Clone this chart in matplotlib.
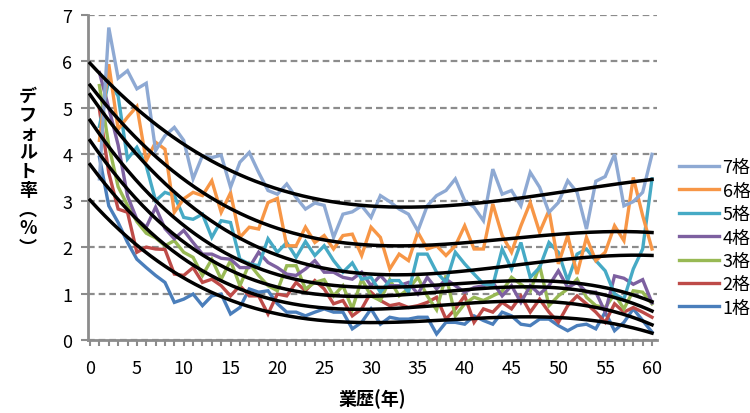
import numpy as np
import matplotlib.pyplot as plt
from matplotlib.lines import Line2D

plt.rcParams['font.family'] = ['Noto Sans CJK JP', 'DejaVu Sans']

years = np.arange(1, 61)

rate_1 = [3.94, 2.89, 2.53, 2.10, 1.74, 1.56, 1.39, 1.24, 0.81, 0.88,
          0.99, 0.74, 0.95, 0.99, 0.56, 0.70, 1.10, 1.03, 1.06, 0.78,
          0.60, 0.60, 0.52, 0.60, 0.67, 0.60, 0.60, 0.24, 0.38, 0.67,
          0.34, 0.49, 0.45, 0.45, 0.49, 0.49, 0.13, 0.38, 0.38, 0.34,
          0.52, 0.42, 0.34, 0.60, 0.52, 0.34, 0.31, 0.45, 0.45, 0.31,
          0.20, 0.31, 0.34, 0.24, 0.60, 0.20, 0.38, 0.67, 0.42, 0.17]
rate_2 = [4.97, 3.60, 2.82, 2.75, 1.89, 2.00, 1.96, 1.95, 1.42, 1.39,
          1.56, 1.24, 1.31, 1.17, 0.95, 1.17, 0.95, 0.95, 0.56, 0.99,
          0.95, 1.24, 1.06, 1.28, 1.10, 0.78, 0.85, 0.52, 0.67, 1.03,
          0.85, 0.74, 0.78, 0.70, 0.74, 0.81, 0.92, 0.45, 0.67, 0.95,
          0.38, 0.67, 0.60, 0.81, 0.67, 0.95, 0.60, 0.88, 0.60, 0.38,
          0.74, 0.95, 0.78, 0.60, 0.38, 0.78, 0.60, 0.70, 0.60, 0.49]
rate_3 = [5.48, 4.19, 3.30, 2.90, 2.55, 2.30, 2.20, 2.03, 2.14, 1.89,
          1.78, 1.39, 1.74, 1.31, 1.71, 1.17, 1.64, 1.39, 1.17, 1.06,
          1.60, 1.60, 1.10, 1.24, 1.30, 0.95, 1.17, 0.67, 1.31, 0.95,
          0.85, 1.30, 0.95, 1.10, 1.35, 0.95, 0.65, 1.39, 0.52, 0.78,
          0.92, 0.85, 0.95, 1.05, 1.35, 1.20, 1.05, 1.60, 0.74, 0.95,
          1.10, 1.31, 0.92, 0.74, 0.70, 0.99, 0.67, 1.06, 1.03, 0.78]
rate_4 = [5.76, 5.00, 4.20, 3.10, 2.60, 2.43, 2.86, 2.40, 2.18, 2.36,
          2.10, 1.85, 1.85, 1.76, 1.74, 1.56, 1.56, 1.89, 1.67, 1.56,
          1.42, 1.39, 1.53, 1.71, 1.46, 1.46, 1.35, 1.31, 1.46, 1.17,
          1.39, 1.17, 1.17, 1.24, 0.99, 1.35, 1.10, 1.31, 1.17, 1.03,
          1.13, 1.17, 1.24, 0.95, 1.17, 0.81, 1.17, 0.99, 1.17, 1.49,
          1.13, 1.24, 1.03, 1.03, 0.60, 1.38, 1.33, 1.20, 1.30, 0.80]
rate_5 = [4.60, 5.60, 5.25, 3.90, 4.15, 3.75, 3.00, 3.18, 3.11, 2.64,
          2.60, 2.71, 2.21, 2.57, 2.53, 1.74, 1.64, 1.60, 2.18, 1.89,
          2.10, 1.78, 2.12, 1.82, 2.03, 1.71, 1.46, 1.66, 1.31, 1.35,
          1.03, 1.28, 1.28, 1.03, 1.85, 1.85, 1.46, 1.24, 1.89, 1.64,
          1.42, 1.21, 1.17, 1.96, 1.53, 2.10, 1.35, 1.56, 2.10, 1.89,
          1.28, 1.85, 1.96, 1.71, 1.49, 0.99, 0.88, 1.53, 1.96, 3.47]
rate_6 = [4.30, 5.94, 4.54, 4.80, 5.03, 3.86, 4.26, 4.11, 2.75, 3.04,
          3.18, 3.11, 3.43, 2.75, 3.17, 2.21, 2.43, 2.39, 2.96, 3.05,
          2.03, 2.03, 2.43, 2.10, 2.25, 1.96, 2.25, 2.28, 1.82, 2.43,
          2.21, 1.53, 1.85, 1.71, 2.32, 1.96, 2.03, 1.82, 2.03, 2.46,
          1.96, 1.96, 2.93, 2.25, 1.89, 2.46, 2.96, 2.32, 2.79, 1.64,
          2.25, 1.42, 2.21, 1.71, 1.89, 2.46, 2.14, 3.50, 2.68, 1.96]
rate_7 = [3.47, 6.73, 5.64, 5.80, 5.41, 5.53, 4.08, 4.40, 4.58, 4.30,
          3.47, 3.97, 3.93, 3.98, 3.29, 3.83, 4.04, 3.61, 3.22, 3.14,
          3.36, 3.07, 2.82, 2.95, 2.90, 2.21, 2.71, 2.76, 2.89, 2.64,
          3.11, 2.98, 2.82, 2.71, 2.35, 2.89, 3.11, 3.22, 3.47, 3.00,
          2.86, 2.57, 3.68, 3.14, 3.22, 2.89, 3.61, 3.29, 2.75, 2.96,
          3.43, 3.18, 2.39, 3.42, 3.52, 4.00, 2.89, 2.98, 3.18, 4.00]

labels = ['1格', '2格', '3格', '4格', '5格', '6格', '7格']
colors = ['#4A7EBB', '#BE4B48', '#98B954', '#7D60A0', '#46AAC5', '#F79646', '#8EA9D3']
series = [rate_1, rate_2, rate_3, rate_4, rate_5, rate_6, rate_7]

fig = plt.figure(figsize=(7.5, 4.14), dpi=100)
ax = fig.add_axes([87.7 / 750, 1 - 341 / 414, (656.7 - 87.7) / 750, (341 - 16) / 414])

for vals, c in zip(series, colors):
    ax.plot(years, vals, color=c, lw=2.4, solid_joinstyle='miter')

# cubic trend per grade, drawn over the whole axis
xs = np.linspace(0, 60, 300)
for vals in series:
    coef = np.polyfit(years, vals, 3)
    ax.plot(xs, np.polyval(coef, xs), color='black', lw=2.5, zorder=5)

ax.set_xlim(-0.25, 60.5)
ax.set_ylim(0, 7)
ax.set_xticks(np.arange(0, 61, 5))
ax.set_xticks(np.arange(0, 61, 1), minor=True)
ax.set_yticks(np.arange(0, 8, 1))
ax.tick_params(axis='x', which='both', length=4, width=1.5, color='#8c8c8c',
               labelsize=13, pad=10)
ax.tick_params(axis='y', length=5, width=1.5, color='#8c8c8c', labelsize=13, pad=6)
for side in ['top', 'right']:
    ax.spines[side].set_visible(False)
for side in ['left', 'bottom']:
    ax.spines[side].set_color('#8c8c8c')
    ax.spines[side].set_linewidth(2)
ax.yaxis.grid(True, color='#8c8c8c', lw=1.6, linestyle=(0, (3, 1.8)))
ax.set_axisbelow(True)

ax.set_xlabel('業歴(年)', fontsize=13, fontweight='bold', labelpad=8)
fig.text(28 / 750, 1 - 172 / 414, '\n'.join('デフォルト率︵%︶'), ha='center', va='center',
         fontsize=13, fontweight='bold', linespacing=1.0)

handles = [Line2D([], [], color=c, lw=2.4) for c in colors][::-1]
fig.legend(handles, labels[::-1], loc='upper left', bbox_to_anchor=(672 / 750, 1 - 152 / 414),
           frameon=False, fontsize=13, handlelength=2.2, handletextpad=0.2,
           labelspacing=0.3, borderaxespad=0)

fig.savefig('out.png', dpi=100)
